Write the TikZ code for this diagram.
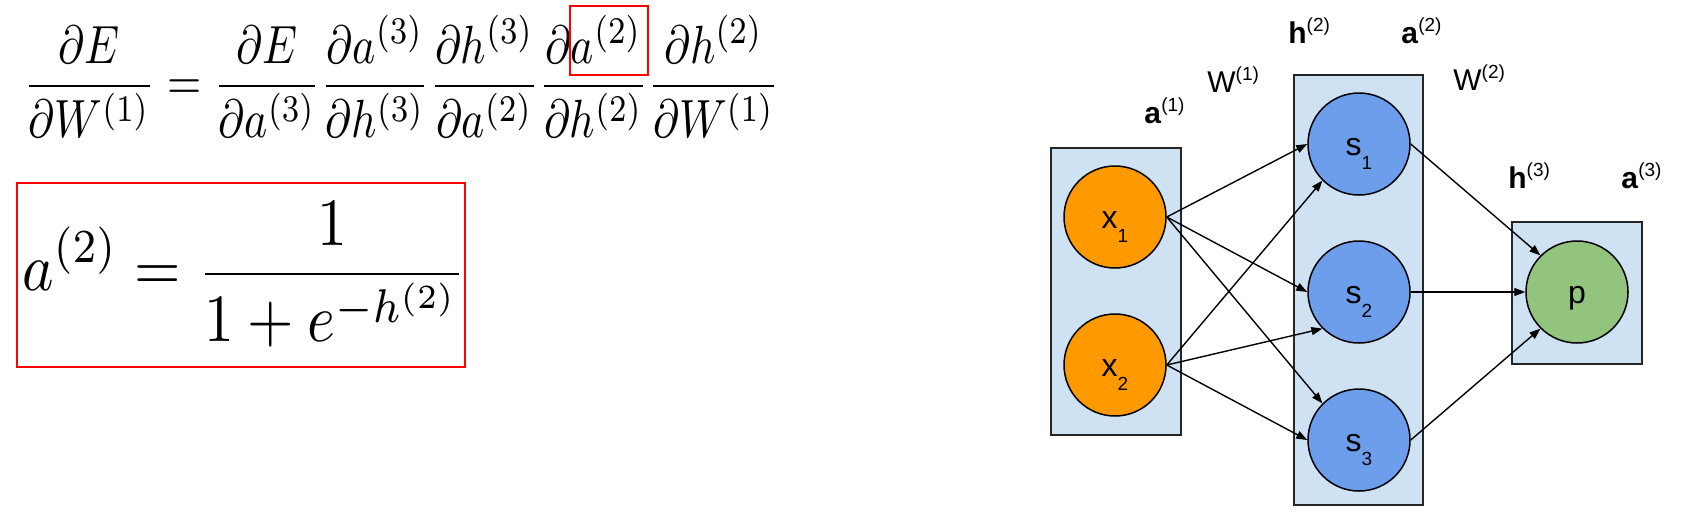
\documentclass[tikz,border=0pt]{standalone}
\usepackage[no-math]{fontspec}
\newfontfamily\netfont{Liberation Sans}
\usepackage{graphicx}
\usetikzlibrary{arrows.meta}
\definecolor{layerblue}{HTML}{CFE2F3}
\definecolor{inorange}{HTML}{FF9900}
\definecolor{hidblue}{HTML}{6D9EEB}
\definecolor{outgreen}{HTML}{93C47D}
\newcommand{\upidx}[1]{\raisebox{6pt}{\fontsize{9.5}{10}\selectfont #1}}
\newcommand{\dnidx}[1]{\raisebox{-7pt}{\fontsize{9.5}{10}\selectfont #1}}

\begin{document}
\begin{tikzpicture}[
  x=0.5pt, y=-0.5pt,
  layer/.style={draw=black!85, fill=layerblue, line width=0.75pt, inner sep=0pt},
  neuron/.style={circle, draw=black, line width=0.75pt, minimum size=51pt, inner sep=0pt,
                 text height=11pt, text depth=0pt, font=\netfont\fontsize{16}{18}\selectfont},
  lbl/.style={font=\netfont\fontsize{15}{18}\selectfont, inner sep=0pt, anchor=base west},
  link/.style={-{Triangle[length=5.5pt,width=4pt]}, line width=0.7pt},
  hlbox/.style={draw=red, line width=0.75pt},
  eqn/.style={inner sep=0pt, anchor=north west}
]
\useasboundingbox (0,0) rectangle (1685,531);
\node[eqn] (chain) at (23,15) {\resizebox*{378pt}{61pt}{$\displaystyle
  \frac{\partial E}{\partial W^{(1)}} = \frac{\partial E}{\partial a^{(3)}}\frac{\partial a^{(3)}}{\partial h^{(3)}}
  \frac{\partial h^{(3)}}{\partial a^{(2)}}\frac{\partial a^{(2)}}{\partial h^{(2)}}\frac{\partial h^{(2)}}{\partial W^{(1)}}$}};
\draw[hlbox] (570,6) rectangle (648,75);
\node[eqn] (sigm) at (22,201) {\resizebox*{222pt}{73pt}{$\displaystyle a^{(2)} = \frac{1}{1+e^{-h^{(2)}}}$}};
\draw[hlbox] (17,183) rectangle (465,367);

\node[layer, minimum width=65pt, minimum height=143.5pt] (L1) at (1116,291.5) {};
\node[layer, minimum width=64.5pt, minimum height=215pt] (L2) at (1358.5,290) {};
\node[layer, minimum width=65pt, minimum height=71pt] (L3) at (1577,293) {};

\node[neuron, fill=inorange] (x1) at (1115,217) {x\dnidx{1}};
\node[neuron, fill=inorange] (x2) at (1115,365) {x\dnidx{2}};
\node[neuron, fill=hidblue] (s1) at (1359,144) {s\dnidx{1}};
\node[neuron, fill=hidblue] (s2) at (1359,292) {s\dnidx{2}};
\node[neuron, fill=hidblue] (s3) at (1359,440) {s\dnidx{3}};
\node[neuron, fill=outgreen] (p) at (1577,292) {p};

\draw[link] (x1.east) -- (s1.west);
\draw[link] (x1.east) -- (s2.west);
\draw[link] (x1.east) -- (s3.north west);
\draw[link] (x2.east) -- (s1.south west);
\draw[link] (x2.east) -- (s2.south west);
\draw[link] (x2.east) -- (s3.west);
\draw[link] (s1.east) -- (p.north west);
\draw[link] (s2.east) -- (p.west);
\draw[link] (s3.east) -- (p.south west);

\node[lbl] (la1) at (1144,123) {\textbf{a}\upidx{(1)}};
\node[lbl] (lw1) at (1207,92) {W\upidx{(1)}};
\node[lbl] (lh2) at (1288,43) {\textbf{h}\upidx{(2)}};
\node[lbl] (la2) at (1401,43) {\textbf{a}\upidx{(2)}};
\node[lbl] (lw2) at (1453,90) {W\upidx{(2)}};
\node[lbl] (lh3) at (1508,188) {\textbf{h}\upidx{(3)}};
\node[lbl] (la3) at (1621,188) {\textbf{a}\upidx{(3)}};
\end{tikzpicture}
\end{document}
